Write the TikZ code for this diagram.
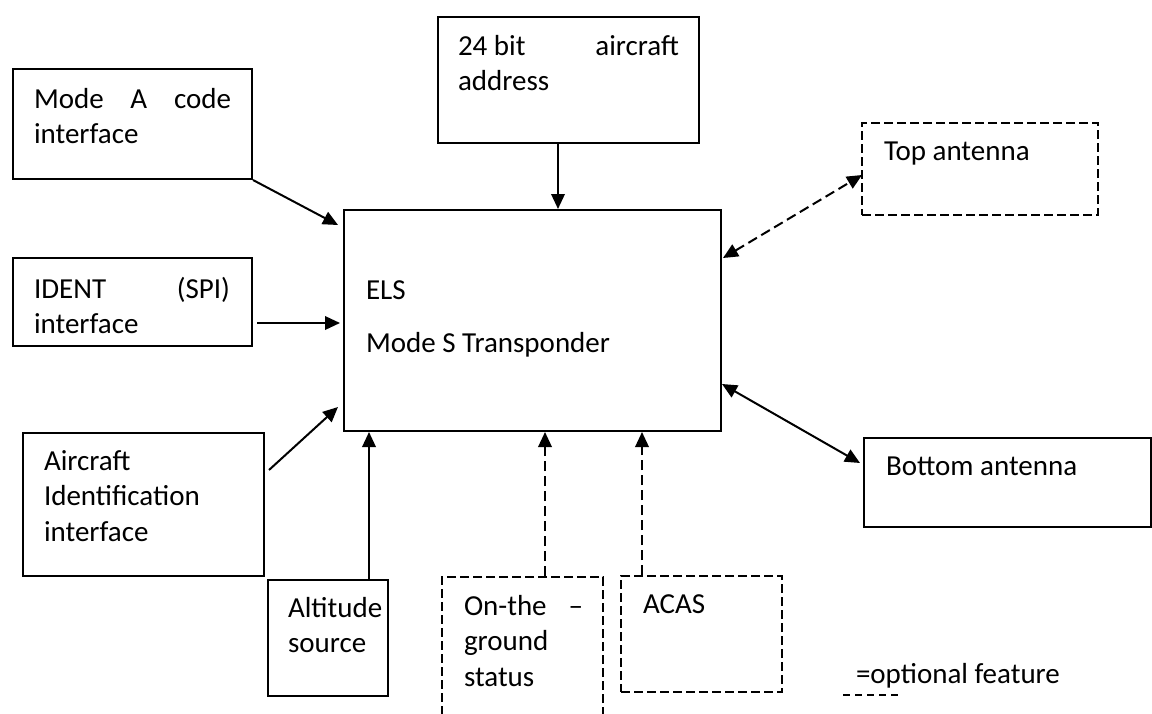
\documentclass[tikz,border=0pt]{standalone}
\usepackage{fontspec}
\setmainfont{Carlito}
\usetikzlibrary{arrows.meta,calc}

\begin{document}
\begin{tikzpicture}
	[x=0.4pt, y=-0.4pt, line width=0.8pt,
	box/.style		= {rectangle, draw, anchor=north west, inner sep=0pt},
	optbox/.style	= {box, dash pattern=on 3.6pt off 1.6pt},
	txt/.style		= {anchor=base west, inner sep=0pt, align=flush left, font=\fontsize{11.6pt}{14.2pt}\selectfont},
	paths/.style	= {-{Triangle[length=6pt,width=5.4pt]}},
	optpaths/.style	= {paths, dash pattern=on 4pt off 2pt},
	both/.style		= {{Triangle[length=6pt,width=5.4pt]}-{Triangle[length=6pt,width=5.4pt]}}]
	
	\useasboundingbox (0,0) rectangle (1152,713);
	\clip (0,0) rectangle (1152,713);
	
	% boxes
	\node at (343, 209)	[box, minimum width=150.8pt, minimum height=88.4pt]		(els)		{};
	\node at (12, 68)	[box, minimum width=95.6pt, minimum height=44pt]		(modea)		{};
	\node at (437, 16)	[box, minimum width=104.4pt, minimum height=50.4pt]		(addr)		{};
	\node at (861, 122)	[optbox, minimum width=94.4pt, minimum height=36.8pt]	(topant)	{};
	\node at (12, 257)	[box, minimum width=95.6pt, minimum height=35.2pt]		(ident)		{};
	\node at (22, 432)	[box, minimum width=96.4pt, minimum height=57.2pt]		(acid)		{};
	\node at (267, 579)	[box, minimum width=48pt, minimum height=46.4pt]		(alt)		{};
	\node at (441, 576)	[optbox, minimum width=64.4pt, minimum height=64pt]		(ground)	{};
	\node at (620, 575)	[optbox, minimum width=64.4pt, minimum height=46.4pt]	(acas)		{};
	\node at (863, 437)	[box, minimum width=114.8pt, minimum height=35.6pt]		(botant)	{};
	
	% texts
	\node at (365, 299)	[txt, text width=130pt]		(elstxt)	{ELS\\[7.2pt]Mode S Transponder};
	\node at (33, 108)	[txt, text width=78.8pt]	(modeatxt)	{Mode\hfill A\hfill code\\interface};
	\node at (457, 55)	[txt, text width=88.4pt]	(addrtxt)	{24 bit\hfill aircraft\\address};
	\node at (883, 160)	[txt]						(toptxt)	{Top antenna};
	\node at (33, 298)	[txt, text width=78.4pt]	(identtxt)	{IDENT\hfill (SPI)\\interface};
	\node at (43, 470)	[txt, text width=86pt]		(acidtxt)	{Aircraft\\Identification\\interface};
	\node at (287, 617)	[txt, text width=40pt]		(alttxt)	{Altitude\\source};
	\node at (463, 615)	[txt, text width=47.6pt]	(groundtxt)	{On-the\hfill –\\ground\\status};
	\node at (642, 613)	[txt]						(acastxt)	{ACAS};
	\node at (885, 475)	[txt]						(bottxt)	{Bottom antenna};
	
	% connectors
	\draw [paths] (modea.south east) -- ($(els.north west)+(-5,16)$);
	\draw [paths] ($(addr.south west)+(121,0)$) -- ($(els.north west)+(215,0)$);
	\draw [both, dash pattern=on 4pt off 2pt] ($(els.north east)+(1,49)$) -- ($(topant.north west)+(1,53)$);
	\draw [paths] ($(ident.north east)+(4,66)$) -- ($(els.north west)+(-3,114)$);
	\draw [paths] ($(acid.north east)+(4,38)$) -- ($(els.south west)+(-5,-25)$);
	\draw [paths] ($(alt.north west)+(102,0)$) -- ($(els.south west)+(26,0)$);
	\draw [optpaths] ($(ground.north west)+(104,0)$) -- ($(els.south west)+(202,0)$);
	\draw [optpaths] ($(acas.north west)+(22,0)$) -- ($(els.south west)+(299,0)$);
	\draw [both] ($(els.south east)+(0,-48)$) -- ($(botant.north west)+(-3,26)$);
	
	% legend
	\node at (855, 683)	[txt]	(legend)	{=optional feature};
	\draw [line width=0.55pt, dash pattern=on 2.8pt off 2pt] ($(legend.base west)+(-12,12)$) -- ($(legend.base west)+(48,12)$);
	
\end{tikzpicture}
\end{document}
